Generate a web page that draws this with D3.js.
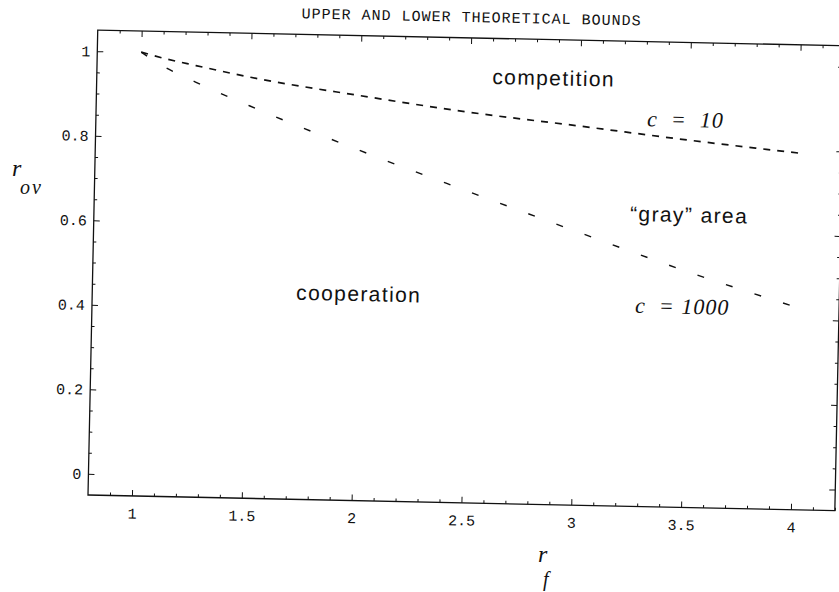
<!DOCTYPE html>
<html>
<head>
<meta charset="utf-8">
<script src="https://cdn.jsdelivr.net/npm/d3@7"></script>
<style>
  body { margin: 0; background: #fff; }
  .tick text { font-family: "Liberation Mono", "Courier New", monospace; font-size: 15px; fill: #111; }
  .tick line { stroke: #111; stroke-width: 1; }
</style>
</head>
<body>
<svg id="chart" width="839" height="592"></svg>
<script>
// data
const rfGrid = [1, 1.1, 1.25, 1.5, 2, 2.5, 3, 3.5, 4];
const rovC10 = [1.0, 0.987, 0.971, 0.946, 0.908, 0.874, 0.847, 0.819, 0.794];
const rovC1000 = [1.0, 0.968, 0.932, 0.878, 0.779, 0.687, 0.597, 0.509, 0.43];

const xTickValues = [1, 1.5, 2, 2.5, 3, 3.5, 4];
const xTickLabels = ["1", "1.5", "2", "2.5", "3", "3.5", "4"];
const yTickValues = [0, 0.2, 0.4, 0.6, 0.8, 1];
const yTickLabels = ["0", "0.2", "0.4", "0.6", "0.8", "1"];

const titleText = "UPPER AND LOWER THEORETICAL BOUNDS";

// region labels: [text, rf, rov]
const regionLabels = [
  ["competition", 2.6, 0.942],
  ["\u201cgray\u201d area", 3.24, 0.625],
  ["cooperation", 1.728, 0.422]
];
const curveLabels = [
  ["c  =  10", 3.309, 0.85],
  ["c  = 1000", 3.272, 0.408]
];

const svg = d3.select("svg#chart");
const margin = { left: 88, top: 30 };
const plotWidth = 747;
const plotHeight = 465;

// the scan is slightly tilted
const tilt = svg
  .append("g")
  .attr("transform", `rotate(1.2, ${margin.left}, ${margin.top + plotHeight})`);
const chart = tilt
  .append("g")
  .attr("transform", `translate(${margin.left},${margin.top})`);

const xScale = d3.scaleLinear().domain([0.8, 4.2]).range([0, plotWidth]);
const yScale = d3.scaleLinear().domain([-0.05, 1.05]).range([plotHeight, 0]);

const xMinor = d3.range(9, 43).map((d) => d / 10).filter((d) => !xTickValues.some((t) => Math.abs(t - d) < 1e-6));
const yMinor = d3.range(1, 21).map((d) => d / 20).filter((d) => !yTickValues.some((t) => Math.abs(t - d) < 1e-6));

const fmtX = (d) => xTickLabels[xTickValues.indexOf(d)];
const fmtY = (d) => yTickLabels[yTickValues.indexOf(d)];

// bottom axis
chart.append("g")
  .attr("transform", `translate(0,${plotHeight})`)
  .call(d3.axisBottom(xScale).tickValues(xTickValues).tickFormat(fmtX).tickSize(-6).tickPadding(12));
chart.append("g")
  .attr("transform", `translate(0,${plotHeight})`)
  .call(d3.axisBottom(xScale).tickValues(xMinor).tickFormat("").tickSize(-3));
// top axis
chart.append("g")
  .call(d3.axisTop(xScale).tickValues(xTickValues).tickFormat("").tickSize(-6));
chart.append("g")
  .call(d3.axisTop(xScale).tickValues(xMinor).tickFormat("").tickSize(-3));
// left axis
chart.append("g")
  .call(d3.axisLeft(yScale).tickValues(yTickValues).tickFormat(fmtY).tickSize(-6).tickPadding(7));
chart.append("g")
  .call(d3.axisLeft(yScale).tickValues(yMinor).tickFormat("").tickSize(-3));
// right axis
chart.append("g")
  .attr("transform", `translate(${plotWidth},0)`)
  .call(d3.axisRight(yScale).tickValues(yTickValues).tickFormat("").tickSize(-6));
chart.append("g")
  .attr("transform", `translate(${plotWidth},0)`)
  .call(d3.axisRight(yScale).tickValues(yMinor).tickFormat("").tickSize(-3));

chart.selectAll(".domain").remove();

// frame
chart.append("rect")
  .attr("width", plotWidth)
  .attr("height", plotHeight)
  .attr("fill", "none")
  .attr("stroke", "#111")
  .attr("stroke-width", 1.3);

// title
chart.append("text")
  .attr("x", plotWidth / 2)
  .attr("y", -16)
  .attr("text-anchor", "middle")
  .attr("font-family", "Liberation Mono, Courier New, monospace")
  .attr("font-size", 15)
  .attr("letter-spacing", 1)
  .attr("fill", "#111")
  .text(titleText);

// curves
const lineGen = d3.line()
  .x((d) => xScale(d[0]))
  .y((d) => yScale(d[1]))
  .curve(d3.curveMonotoneX);

chart.append("path")
  .datum(rfGrid.map((d, i) => [d, rovC10[i]]))
  .attr("fill", "none")
  .attr("stroke", "#111")
  .attr("stroke-width", 1.7)
  .attr("stroke-dasharray", "7 7")
  .attr("d", lineGen);

chart.append("path")
  .datum(rfGrid.map((d, i) => [d, rovC1000[i]]))
  .attr("fill", "none")
  .attr("stroke", "#111")
  .attr("stroke-width", 1.4)
  .attr("stroke-dasharray", "7 23")
  .attr("d", lineGen);

// labels
chart.selectAll(".region")
  .data(regionLabels)
  .join("text")
  .attr("class", "region")
  .attr("x", (d) => xScale(d[1]))
  .attr("y", (d) => yScale(d[2]))
  .attr("font-family", "Liberation Sans, Arial, sans-serif")
  .attr("font-size", 21)
  .attr("letter-spacing", 1.4)
  .attr("fill", "#111")
  .text((d) => d[0]);

chart.selectAll(".curve-label")
  .data(curveLabels)
  .join("text")
  .attr("class", "curve-label")
  .attr("x", (d) => xScale(d[1]))
  .attr("y", (d) => yScale(d[2]))
  .attr("font-family", "Liberation Serif, Times New Roman, serif")
  .attr("font-style", "italic")
  .attr("font-size", 22)
  .attr("letter-spacing", 1)
  .style("white-space", "pre")
  .attr("fill", "#111")
  .text((d) => d[0]);

// axis titles (r with a lowered subscript)
const serif = "Liberation Serif, Times New Roman, serif";
const yTitle = svg.append("text").attr("x", 12).attr("y", 176)
  .attr("font-family", serif).attr("font-style", "italic").attr("font-size", 24)
  .attr("fill", "#111");
yTitle.append("tspan").text("r");
yTitle.append("tspan").attr("x", 20).attr("dy", 18).attr("font-size", 20)
  .attr("letter-spacing", 2).text("ov");

const xTitle = svg.append("text").attr("x", 538).attr("y", 562)
  .attr("font-family", serif).attr("font-style", "italic").attr("font-size", 24)
  .attr("fill", "#111");
xTitle.append("tspan").text("r");
xTitle.append("tspan").attr("x", 543).attr("dy", 24).attr("font-size", 20).text("f");
</script>
</body>
</html>
